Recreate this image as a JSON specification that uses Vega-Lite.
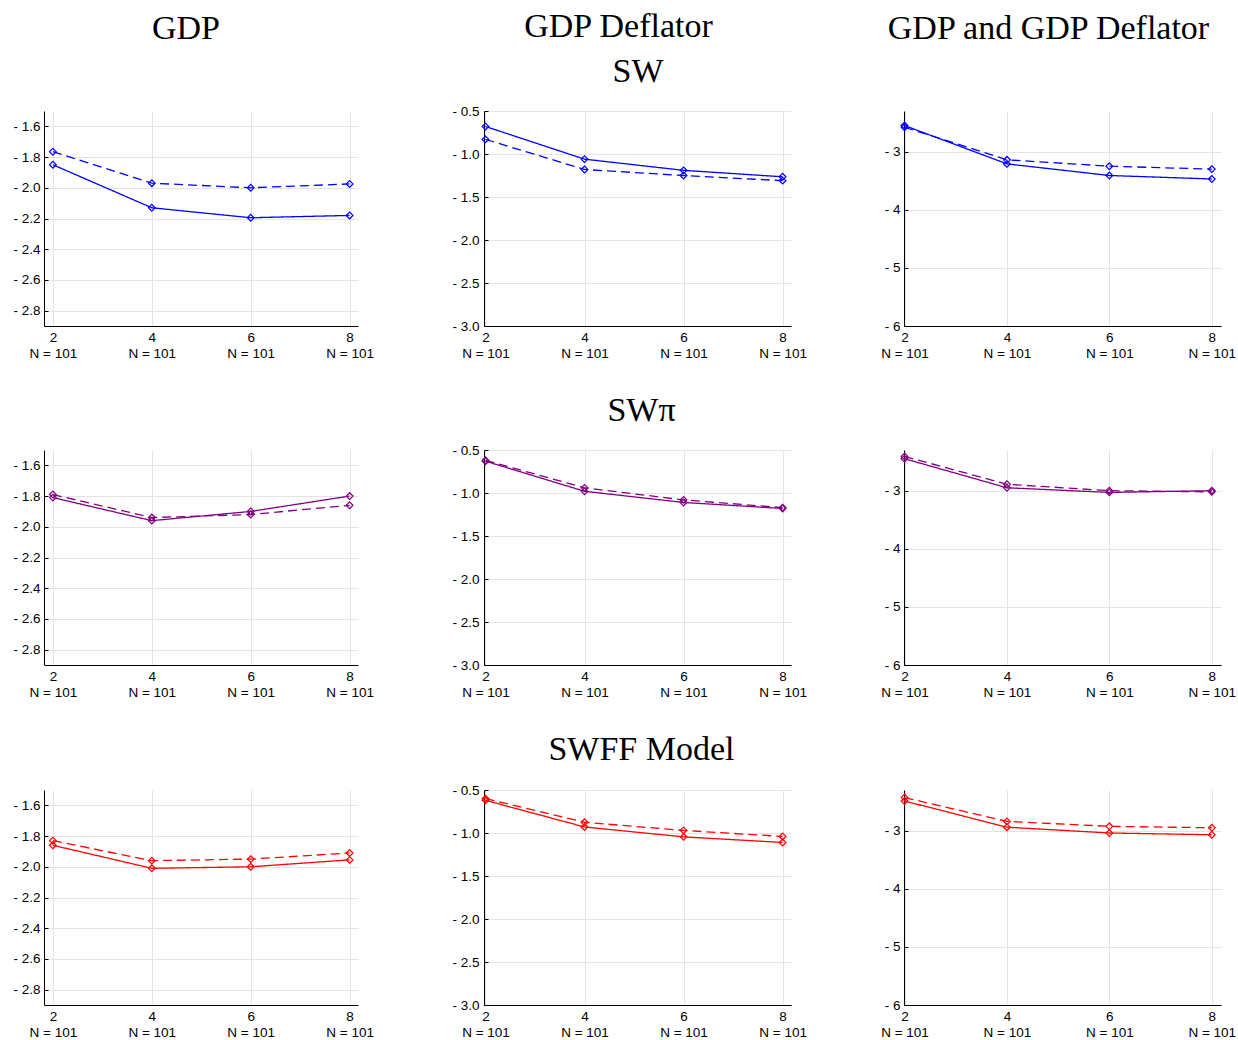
{
  "$schema": "https://vega.github.io/schema/vega-lite/v6.json",
  "padding": {"left": 12, "top": 10, "right": 0, "bottom": 2},
  "background": "white",
  "datasets": {
    "d": [
      {"row":"SW","col":"GDP","series":"solid","x":2,"y":-1.85},
      {"row":"SW","col":"GDP","series":"solid","x":4,"y":-2.13},
      {"row":"SW","col":"GDP","series":"solid","x":6,"y":-2.195},
      {"row":"SW","col":"GDP","series":"solid","x":8,"y":-2.18},
      {"row":"SW","col":"GDP","series":"dashed","x":2,"y":-1.765},
      {"row":"SW","col":"GDP","series":"dashed","x":4,"y":-1.97},
      {"row":"SW","col":"GDP","series":"dashed","x":6,"y":-2.0},
      {"row":"SW","col":"GDP","series":"dashed","x":8,"y":-1.975},
      {"row":"SW","col":"Defl","series":"solid","x":2,"y":-0.68},
      {"row":"SW","col":"Defl","series":"solid","x":4,"y":-1.06},
      {"row":"SW","col":"Defl","series":"solid","x":6,"y":-1.19},
      {"row":"SW","col":"Defl","series":"solid","x":8,"y":-1.265},
      {"row":"SW","col":"Defl","series":"dashed","x":2,"y":-0.83},
      {"row":"SW","col":"Defl","series":"dashed","x":4,"y":-1.18},
      {"row":"SW","col":"Defl","series":"dashed","x":6,"y":-1.25},
      {"row":"SW","col":"Defl","series":"dashed","x":8,"y":-1.31},
      {"row":"SW","col":"Both","series":"solid","x":2,"y":-2.55},
      {"row":"SW","col":"Both","series":"solid","x":4,"y":-3.21},
      {"row":"SW","col":"Both","series":"solid","x":6,"y":-3.41},
      {"row":"SW","col":"Both","series":"solid","x":8,"y":-3.47},
      {"row":"SW","col":"Both","series":"dashed","x":2,"y":-2.58},
      {"row":"SW","col":"Both","series":"dashed","x":4,"y":-3.14},
      {"row":"SW","col":"Both","series":"dashed","x":6,"y":-3.25},
      {"row":"SW","col":"Both","series":"dashed","x":8,"y":-3.30},
      {"row":"SWpi","col":"GDP","series":"solid","x":2,"y":-1.81},
      {"row":"SWpi","col":"GDP","series":"solid","x":4,"y":-1.96},
      {"row":"SWpi","col":"GDP","series":"solid","x":6,"y":-1.90},
      {"row":"SWpi","col":"GDP","series":"solid","x":8,"y":-1.80},
      {"row":"SWpi","col":"GDP","series":"dashed","x":2,"y":-1.79},
      {"row":"SWpi","col":"GDP","series":"dashed","x":4,"y":-1.94},
      {"row":"SWpi","col":"GDP","series":"dashed","x":6,"y":-1.92},
      {"row":"SWpi","col":"GDP","series":"dashed","x":8,"y":-1.86},
      {"row":"SWpi","col":"Defl","series":"solid","x":2,"y":-0.63},
      {"row":"SWpi","col":"Defl","series":"solid","x":4,"y":-0.98},
      {"row":"SWpi","col":"Defl","series":"solid","x":6,"y":-1.11},
      {"row":"SWpi","col":"Defl","series":"solid","x":8,"y":-1.18},
      {"row":"SWpi","col":"Defl","series":"dashed","x":2,"y":-0.62},
      {"row":"SWpi","col":"Defl","series":"dashed","x":4,"y":-0.94},
      {"row":"SWpi","col":"Defl","series":"dashed","x":6,"y":-1.08},
      {"row":"SWpi","col":"Defl","series":"dashed","x":8,"y":-1.17},
      {"row":"SWpi","col":"Both","series":"solid","x":2,"y":-2.45},
      {"row":"SWpi","col":"Both","series":"solid","x":4,"y":-2.95},
      {"row":"SWpi","col":"Both","series":"solid","x":6,"y":-3.03},
      {"row":"SWpi","col":"Both","series":"solid","x":8,"y":-3.0},
      {"row":"SWpi","col":"Both","series":"dashed","x":2,"y":-2.41},
      {"row":"SWpi","col":"Both","series":"dashed","x":4,"y":-2.89},
      {"row":"SWpi","col":"Both","series":"dashed","x":6,"y":-3.0},
      {"row":"SWpi","col":"Both","series":"dashed","x":8,"y":-3.02},
      {"row":"SWFF","col":"GDP","series":"solid","x":2,"y":-1.86},
      {"row":"SWFF","col":"GDP","series":"solid","x":4,"y":-2.01},
      {"row":"SWFF","col":"GDP","series":"solid","x":6,"y":-2.0},
      {"row":"SWFF","col":"GDP","series":"solid","x":8,"y":-1.955},
      {"row":"SWFF","col":"GDP","series":"dashed","x":2,"y":-1.83},
      {"row":"SWFF","col":"GDP","series":"dashed","x":4,"y":-1.96},
      {"row":"SWFF","col":"GDP","series":"dashed","x":6,"y":-1.95},
      {"row":"SWFF","col":"GDP","series":"dashed","x":8,"y":-1.91},
      {"row":"SWFF","col":"Defl","series":"solid","x":2,"y":-0.62},
      {"row":"SWFF","col":"Defl","series":"solid","x":4,"y":-0.93},
      {"row":"SWFF","col":"Defl","series":"solid","x":6,"y":-1.045},
      {"row":"SWFF","col":"Defl","series":"solid","x":8,"y":-1.11},
      {"row":"SWFF","col":"Defl","series":"dashed","x":2,"y":-0.60},
      {"row":"SWFF","col":"Defl","series":"dashed","x":4,"y":-0.875},
      {"row":"SWFF","col":"Defl","series":"dashed","x":6,"y":-0.97},
      {"row":"SWFF","col":"Defl","series":"dashed","x":8,"y":-1.04},
      {"row":"SWFF","col":"Both","series":"solid","x":2,"y":-2.49},
      {"row":"SWFF","col":"Both","series":"solid","x":4,"y":-2.94},
      {"row":"SWFF","col":"Both","series":"solid","x":6,"y":-3.04},
      {"row":"SWFF","col":"Both","series":"solid","x":8,"y":-3.07},
      {"row":"SWFF","col":"Both","series":"dashed","x":2,"y":-2.43},
      {"row":"SWFF","col":"Both","series":"dashed","x":4,"y":-2.84},
      {"row":"SWFF","col":"Both","series":"dashed","x":6,"y":-2.925},
      {"row":"SWFF","col":"Both","series":"dashed","x":8,"y":-2.95}
    ]
  },
  "data": {"name": "d"},
  "columns": 3,
  "align": "each",
  "spacing": {"row": 34, "column": 73},
  "config": {
    "view": {"stroke": null},
    "axis": {"labelFont": "Liberation Sans", "labelFontSize": 13.5, "labelColor": "#000", "domainColor": "#000", "domainWidth": 1, "gridColor": "#e4e4e4", "gridWidth": 1, "ticks": false, "title": null, "labelOverlap": false, "labelFlush": false},
    "axisY": {"ticks": true, "tickSize": -4, "tickColor": "#000", "tickWidth": 1},
    "title": {"font": "Liberation Serif", "fontSize": 34, "fontWeight": "normal", "color": "#000", "frame": "group", "anchor": "middle"}
  },
  "concat": [
    {
      "width": 314, "height": 215,
      "title": {"text": "GDP", "dx": -15, "offset": 65},
      "transform": [{"filter": "datum.row === 'SW' && datum.col === 'GDP'"}],
      "encoding": {
        "x": {"field": "x", "type": "quantitative", "scale": {"domain": [1.82, 8.17], "nice": false, "zero": false}, "axis": {"values": [2,4,6,8], "labelExpr": "[format(datum.value,'d'), 'N = 101']", "labelLineHeight": 16, "labelPadding": 4}},
        "y": {"field": "y", "type": "quantitative", "scale": {"domain": [-2.9, -1.5], "nice": false, "zero": false}, "axis": {"values": [-2.8,-2.6,-2.4,-2.2,-2.0,-1.8,-1.6], "labelExpr": "'- ' + format(-datum.value, '.1f')", "labelPadding": 8}}
      },
      "layer": [
        {"mark": {"type": "line", "color": "#0000ff", "strokeWidth": 1.3}, "encoding": {"strokeDash": {"field": "series", "type": "nominal", "scale": {"domain": ["solid","dashed"], "range": [[1,0],[9,5]]}, "legend": null}}},
        {"mark": {"type": "point", "shape": "diamond", "filled": false, "color": "#0000ff", "size": 45, "strokeWidth": 1.2, "opacity": 1}}
      ]
    },
    {
      "width": 307, "height": 215,
      "title": {"text": "GDP Deflator", "dx": -19, "offset": 10},
      "transform": [{"filter": "datum.row === 'SW' && datum.col === 'Defl'"}],
      "encoding": {
        "y": {"field": "y", "type": "quantitative", "scale": {"domain": [-3.0, -0.5], "nice": false, "zero": false}, "axis": {"values": [-3.0,-2.5,-2.0,-1.5,-1.0,-0.5], "labelExpr": "'- ' + format(-datum.value, '.1f')", "labelPadding": 9, "minExtent": 37}}
      },
      "layer": [
        {"mark": {"type": "line", "color": "#0000ff", "strokeWidth": 1.3}, "encoding": {
          "x": {"field": "x", "type": "quantitative", "scale": {"domain": [1.97, 8.17], "nice": false, "zero": false}, "axis": {"orient": "bottom", "values": [2,4,6,8], "labelExpr": "[format(datum.value,'d'), 'N = 101']", "labelLineHeight": 16, "labelPadding": 4}},
          "strokeDash": {"field": "series", "type": "nominal", "scale": {"domain": ["solid","dashed"], "range": [[1,0],[9,5]]}, "legend": null}}},
        {"mark": {"type": "point", "shape": "diamond", "filled": false, "color": "#0000ff", "size": 45, "strokeWidth": 1.2, "opacity": 1}, "encoding": {
          "x": {"field": "x", "type": "quantitative", "axis": {"orient": "top", "title": "SW", "labels": false, "ticks": false, "domain": false, "grid": false, "titleFont": "Liberation Serif", "titleFontSize": 34, "titleFontWeight": "normal", "titleColor": "#000", "titlePadding": 23}}}}
      ],
      "resolve": {"axis": {"x": "independent"}}
    },
    {
      "width": 317, "height": 215,
      "title": {"text": "GDP and GDP Deflator", "dx": -14, "offset": 65},
      "transform": [{"filter": "datum.row === 'SW' && datum.col === 'Both'"}],
      "encoding": {
        "x": {"field": "x", "type": "quantitative", "scale": {"domain": [1.99, 8.18], "nice": false, "zero": false}, "axis": {"values": [2,4,6,8], "labelExpr": "[format(datum.value,'d'), 'N = 101']", "labelLineHeight": 16, "labelPadding": 4}},
        "y": {"field": "y", "type": "quantitative", "scale": {"domain": [-6, -2.3], "nice": false, "zero": false}, "axis": {"values": [-6,-5,-4,-3], "labelExpr": "'- ' + format(-datum.value, 'd')", "labelPadding": 8}}
      },
      "layer": [
        {"mark": {"type": "line", "color": "#0000ff", "strokeWidth": 1.3}, "encoding": {"strokeDash": {"field": "series", "type": "nominal", "scale": {"domain": ["solid","dashed"], "range": [[1,0],[9,5]]}, "legend": null}}},
        {"mark": {"type": "point", "shape": "diamond", "filled": false, "color": "#0000ff", "size": 45, "strokeWidth": 1.2, "opacity": 1}}
      ]
    },
    {
      "width": 314, "height": 215,
      "transform": [{"filter": "datum.row === 'SWpi' && datum.col === 'GDP'"}],
      "encoding": {
        "x": {"field": "x", "type": "quantitative", "scale": {"domain": [1.82, 8.17], "nice": false, "zero": false}, "axis": {"values": [2,4,6,8], "labelExpr": "[format(datum.value,'d'), 'N = 101']", "labelLineHeight": 16, "labelPadding": 4}},
        "y": {"field": "y", "type": "quantitative", "scale": {"domain": [-2.9, -1.5], "nice": false, "zero": false}, "axis": {"values": [-2.8,-2.6,-2.4,-2.2,-2.0,-1.8,-1.6], "labelExpr": "'- ' + format(-datum.value, '.1f')", "labelPadding": 8}}
      },
      "layer": [
        {"mark": {"type": "line", "color": "#800080", "strokeWidth": 1.3}, "encoding": {"strokeDash": {"field": "series", "type": "nominal", "scale": {"domain": ["solid","dashed"], "range": [[1,0],[9,5]]}, "legend": null}}},
        {"mark": {"type": "point", "shape": "diamond", "filled": false, "color": "#800080", "size": 45, "strokeWidth": 1.2, "opacity": 1}}
      ]
    },
    {
      "width": 307, "height": 215,
      "title": {"text": "SWπ", "dx": 4, "offset": 15},
      "transform": [{"filter": "datum.row === 'SWpi' && datum.col === 'Defl'"}],
      "encoding": {
        "x": {"field": "x", "type": "quantitative", "scale": {"domain": [1.97, 8.17], "nice": false, "zero": false}, "axis": {"values": [2,4,6,8], "labelExpr": "[format(datum.value,'d'), 'N = 101']", "labelLineHeight": 16, "labelPadding": 4}},
        "y": {"field": "y", "type": "quantitative", "scale": {"domain": [-3.0, -0.5], "nice": false, "zero": false}, "axis": {"values": [-3.0,-2.5,-2.0,-1.5,-1.0,-0.5], "labelExpr": "'- ' + format(-datum.value, '.1f')", "labelPadding": 9, "minExtent": 37}}
      },
      "layer": [
        {"mark": {"type": "line", "color": "#800080", "strokeWidth": 1.3}, "encoding": {"strokeDash": {"field": "series", "type": "nominal", "scale": {"domain": ["solid","dashed"], "range": [[1,0],[9,5]]}, "legend": null}}},
        {"mark": {"type": "point", "shape": "diamond", "filled": false, "color": "#800080", "size": 45, "strokeWidth": 1.2, "opacity": 1}}
      ]
    },
    {
      "width": 317, "height": 215,
      "transform": [{"filter": "datum.row === 'SWpi' && datum.col === 'Both'"}],
      "encoding": {
        "x": {"field": "x", "type": "quantitative", "scale": {"domain": [1.99, 8.18], "nice": false, "zero": false}, "axis": {"values": [2,4,6,8], "labelExpr": "[format(datum.value,'d'), 'N = 101']", "labelLineHeight": 16, "labelPadding": 4}},
        "y": {"field": "y", "type": "quantitative", "scale": {"domain": [-6, -2.3], "nice": false, "zero": false}, "axis": {"values": [-6,-5,-4,-3], "labelExpr": "'- ' + format(-datum.value, 'd')", "labelPadding": 8}}
      },
      "layer": [
        {"mark": {"type": "line", "color": "#800080", "strokeWidth": 1.3}, "encoding": {"strokeDash": {"field": "series", "type": "nominal", "scale": {"domain": ["solid","dashed"], "range": [[1,0],[9,5]]}, "legend": null}}},
        {"mark": {"type": "point", "shape": "diamond", "filled": false, "color": "#800080", "size": 45, "strokeWidth": 1.2, "opacity": 1}}
      ]
    },
    {
      "width": 314, "height": 215,
      "transform": [{"filter": "datum.row === 'SWFF' && datum.col === 'GDP'"}],
      "encoding": {
        "x": {"field": "x", "type": "quantitative", "scale": {"domain": [1.82, 8.17], "nice": false, "zero": false}, "axis": {"values": [2,4,6,8], "labelExpr": "[format(datum.value,'d'), 'N = 101']", "labelLineHeight": 16, "labelPadding": 4}},
        "y": {"field": "y", "type": "quantitative", "scale": {"domain": [-2.9, -1.5], "nice": false, "zero": false}, "axis": {"values": [-2.8,-2.6,-2.4,-2.2,-2.0,-1.8,-1.6], "labelExpr": "'- ' + format(-datum.value, '.1f')", "labelPadding": 8}}
      },
      "layer": [
        {"mark": {"type": "line", "color": "#ff0000", "strokeWidth": 1.3}, "encoding": {"strokeDash": {"field": "series", "type": "nominal", "scale": {"domain": ["solid","dashed"], "range": [[1,0],[9,5]]}, "legend": null}}},
        {"mark": {"type": "point", "shape": "diamond", "filled": false, "color": "#ff0000", "size": 45, "strokeWidth": 1.2, "opacity": 1}}
      ]
    },
    {
      "width": 307, "height": 215,
      "title": {"text": "SWFF Model", "dx": 4, "offset": 16},
      "transform": [{"filter": "datum.row === 'SWFF' && datum.col === 'Defl'"}],
      "encoding": {
        "x": {"field": "x", "type": "quantitative", "scale": {"domain": [1.97, 8.17], "nice": false, "zero": false}, "axis": {"values": [2,4,6,8], "labelExpr": "[format(datum.value,'d'), 'N = 101']", "labelLineHeight": 16, "labelPadding": 4}},
        "y": {"field": "y", "type": "quantitative", "scale": {"domain": [-3.0, -0.5], "nice": false, "zero": false}, "axis": {"values": [-3.0,-2.5,-2.0,-1.5,-1.0,-0.5], "labelExpr": "'- ' + format(-datum.value, '.1f')", "labelPadding": 9, "minExtent": 37}}
      },
      "layer": [
        {"mark": {"type": "line", "color": "#ff0000", "strokeWidth": 1.3}, "encoding": {"strokeDash": {"field": "series", "type": "nominal", "scale": {"domain": ["solid","dashed"], "range": [[1,0],[9,5]]}, "legend": null}}},
        {"mark": {"type": "point", "shape": "diamond", "filled": false, "color": "#ff0000", "size": 45, "strokeWidth": 1.2, "opacity": 1}}
      ]
    },
    {
      "width": 317, "height": 215,
      "transform": [{"filter": "datum.row === 'SWFF' && datum.col === 'Both'"}],
      "encoding": {
        "x": {"field": "x", "type": "quantitative", "scale": {"domain": [1.99, 8.18], "nice": false, "zero": false}, "axis": {"values": [2,4,6,8], "labelExpr": "[format(datum.value,'d'), 'N = 101']", "labelLineHeight": 16, "labelPadding": 4}},
        "y": {"field": "y", "type": "quantitative", "scale": {"domain": [-6, -2.3], "nice": false, "zero": false}, "axis": {"values": [-6,-5,-4,-3], "labelExpr": "'- ' + format(-datum.value, 'd')", "labelPadding": 8}}
      },
      "layer": [
        {"mark": {"type": "line", "color": "#ff0000", "strokeWidth": 1.3}, "encoding": {"strokeDash": {"field": "series", "type": "nominal", "scale": {"domain": ["solid","dashed"], "range": [[1,0],[9,5]]}, "legend": null}}},
        {"mark": {"type": "point", "shape": "diamond", "filled": false, "color": "#ff0000", "size": 45, "strokeWidth": 1.2, "opacity": 1}}
      ]
    }
  ]
}
